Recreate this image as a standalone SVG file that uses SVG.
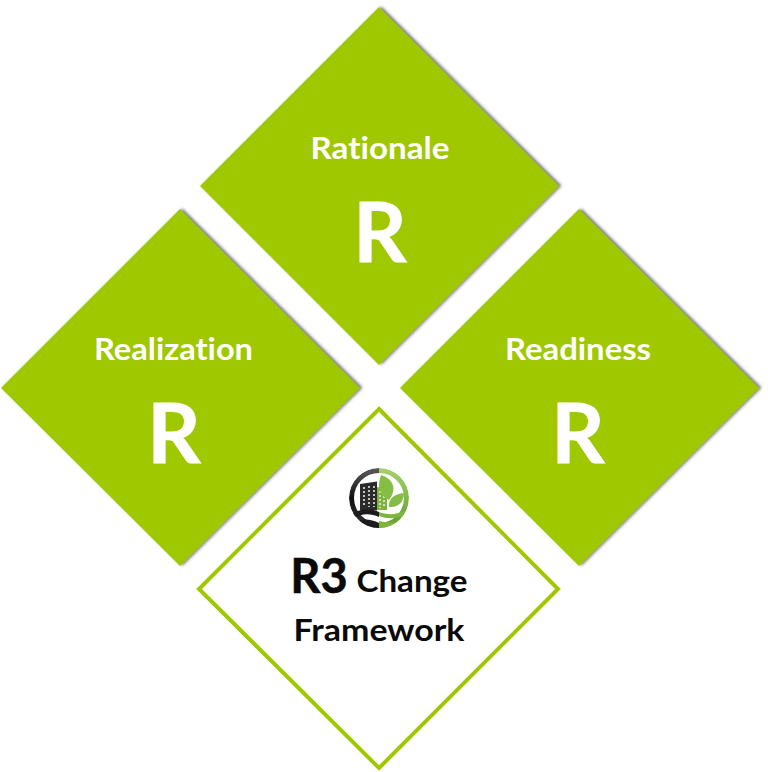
<svg xmlns="http://www.w3.org/2000/svg" width="768" height="772" viewBox="0 0 768 772">
<style>
.d{fill:#9fc800;filter:url(#s)}
text{font-family:Lato,Carlito,"Open Sans",sans-serif;font-weight:700;text-anchor:middle;font-variant-ligatures:none}
.l{fill:#fff;font-size:30px}
.r{fill:#fff;font-size:83px;stroke:#fff;stroke-width:.8px}
.k{fill:#0a0a0a}
.w{stroke:#e8e8e8;stroke-width:1.6;stroke-dasharray:2 2;fill:none}
</style>
<defs>
<filter id="s" x="-5%" y="-5%" width="110%" height="110%"><feDropShadow dx="2.4" dy="-.4" stdDeviation="1.5" flood-color="#444" flood-opacity=".75"/></filter>
<clipPath id="lc"><circle cx="379" cy="498" r="30"/></clipPath>
<linearGradient id="dk" x1="0" y1="0" x2="0" y2="1"><stop offset="0" stop-color="#555"/><stop offset=".5" stop-color="#111"/><stop offset="1" stop-color="#333"/></linearGradient>
<linearGradient id="gn" x1="0" y1="0" x2="0" y2="1"><stop offset="0" stop-color="#a4cf6a"/><stop offset="1" stop-color="#5fa02a"/></linearGradient>
</defs>
<rect width="768" height="772" fill="#fff"/>
<g id="node-rationale"><polygon class="d" points="379,7 559,186 379,365 200,186"/>
<text class="l" x="380" y="158.500" textLength="139" lengthAdjust="spacingAndGlyphs">Rationale</text><text class="r" x="380" y="262">R</text></g>
<g id="node-realization"><polygon class="d" points="180,209 360,388 180,566 1,388"/>
<text class="l" x="173.500" y="359.500" textLength="159" lengthAdjust="spacingAndGlyphs">Realization</text><text class="r" x="174" y="463">R</text></g>
<g id="node-readiness"><polygon class="d" points="579,209 759,388 579,566 400,388"/>
<text class="l" x="578" y="359.500" textLength="146" lengthAdjust="spacingAndGlyphs">Readiness</text><text class="r" x="578" y="463">R</text></g>
<g id="node-framework"><polygon points="379,409 558,589 379,768 199,589" fill="#fff" stroke="#9fc800" stroke-width="4"/>
<g id="logo" clip-path="url(#lc)">
<path d="M379 470.500a27.500 27.500 0 0 0 0 55" fill="none" stroke="url(#dk)" stroke-width="5"/>
<path d="M379 470.500a27.500 27.500 0 0 1 0 55" fill="none" stroke="url(#gn)" stroke-width="5"/>
<path d="M360 484l17-2.500v29h-17z" fill="#2a2a2a"/>
<path d="M364 487v20M369 486v21M374 486v21" class="w"/>
<path d="M377 487l10 2v21h-10z" fill="#7fb53a"/>
<path d="M380 491v17M384 492v16" class="w" stroke="#e8f2cc"/>
<path d="M381 475c9 3 14 9 12 17-1 3-2 6-4 8-6-3-10-8-10-14 0-4 1-8 2-11z" fill="#86bd45"/>
<path d="M389 507c-1-8 5-13 15-14 0 9-6 15-15 14z" fill="#86bd45"/>
<path d="M352 514c9-6 18-6 27-2v5c-9-4-18-4-26 2z" fill="#1c1c1c"/>
<path d="M355 522c8-4 16-3 24 1v6h-15z" fill="#1c1c1c"/>
<path d="M379 512c8 3 16 3 26-1l-2 5c-8 3-16 3-24 0z" fill="#7fb53a"/>
<path d="M379 521c8 2 15 2 22-1l-6 6-16 3z" fill="#7fb53a"/>
</g>
<text class="k" x="319" y="593" font-size="47" stroke="#0a0a0a" stroke-width=".5">R3</text>
<text class="k" x="412" y="592" font-size="30" textLength="111" lengthAdjust="spacingAndGlyphs">Change</text>
<text class="k" x="379" y="641" font-size="30" textLength="171" lengthAdjust="spacingAndGlyphs">Framework</text>
</g>
<g id="connectors"/>
</svg>
